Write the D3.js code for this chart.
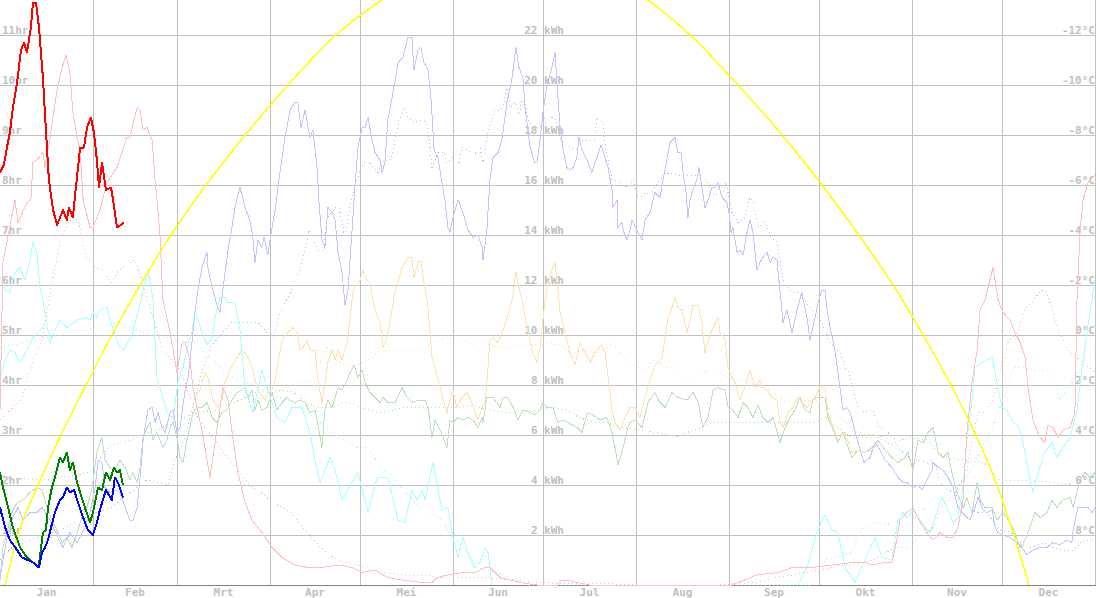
<!DOCTYPE html>
<html><head><meta charset="utf-8">
<script src="https://cdn.jsdelivr.net/npm/d3@7"></script>
<style>
html,body{margin:0;padding:0;background:#fff;}
svg{display:block;}
text{font-family:"DejaVu Sans Mono",monospace;font-weight:bold;font-size:11px;fill:#c0c0c0;}
</style></head><body>
<svg id="c" width="1096" height="598"></svg>
<script>
// ---------- categories / ticks ----------
const months = ["Jan","Feb","Mrt","Apr","Mei","Jun","Jul","Aug","Sep","Okt","Nov","Dec"];
const monthDays = [31,28,31,30,31,30,31,31,30,31,30,31];
const hrTicks = [1,2,3,4,5,6,7,8,9,10,11];
const kwhTicks = [2,4,6,8,10,12,14,16,18,20,22];
const tempTicks = [8,6,4,2,0,-2,-4,-6,-8,-10,-12];

// ---------- series: [dayOfYear, kWh] ----------
const redNow = [[0,16.5],[1.3,16.8],[2.3,17.5],[3.3,18.1],[4.3,19.1],[5.7,20.1],[7,21.4],[8,21.7],[9,21.3],[10.3,22.3],[11,23.3],[12,23.3],[13,22.3],[14.3,20.3],[15.3,18.2],[16.3,16.2],[17.7,15.0],[19,14.4],[21,15.0],[22.3,14.6],[23,15.1],[24.3,14.7],[25.3,15.9],[26.7,17.5],[28,17.5],[29,18.3],[30.3,18.7],[31.3,18.1],[32.3,17.0],[33,15.9],[34,16.9],[35.3,15.8],[37,15.9],[37.7,15.4],[39,14.3],[40.3,14.4],[41.3,14.5]];
const greenNow = [[0,4.5],[1,3.9],[2.3,3.3],[4.3,2.3],[6.7,1.5],[9,1.1],[11,0.9],[12.7,0.7],[13.3,1.1],[14.3,2.1],[15.3,2.2],[16,3.1],[17.3,3.9],[18.3,4.3],[20,5.1],[21,4.9],[22.3,5.3],[23.3,4.6],[24.3,4.9],[25.7,4.1],[26.7,3.7],[28.3,3.1],[30,2.5],[31,2.9],[32.7,3.9],[34,3.8],[35.3,4.5],[36.7,4.2],[38,4.7],[39,4.5],[40,4.6],[41,4.0]];
const blueNow = [[0,3.1],[1.7,2.3],[3.3,1.8],[5.7,1.4],[7.3,1.1],[9.3,1.0],[11,0.9],[13,0.7],[14,1.3],[15,1.5],[16,1.8],[17,2.3],[18.3,2.9],[20,3.4],[21,3.5],[22.3,3.9],[23.3,3.7],[24.7,3.8],[26,3.3],[27.7,2.7],[29.3,2.2],[31,2.0],[32.3,2.5],[33.3,3.0],[34.3,3.4],[35.3,3.8],[36.3,3.6],[37.3,3.4],[38.3,4.3],[39.3,4.1],[41,3.5]];

const yellowRef = [[1.7,0],[6,2],[12.7,4],[20.3,6],[28.7,8],[37.3,10],[46.7,12],[57,14],[68.7,16],[81.7,18],[96,20],[112,22],[127.3,23.4],[145,24.6],[172,25.4],[198,24.6],[216,23.4],[230,22],[246,20],[260.7,18],[274,16],[286.3,14],[297.7,12],[307.7,10],[317,8],[325.3,6],[332.3,4],[338,2],[343,0]];

const pinkPrev = [[0,7.0],[1,12.9],[5,15.4],[6,14.5],[9,15.3],[10.3,15.4],[11,16.9],[12.3,17.0],[14.3,17.3],[15,16.7],[16.7,17.9],[19,19.8],[20.7,20.7],[22,21.2],[23.3,20.5],[24.3,18.9],[25.7,17.9],[26.7,17.4],[27.7,15.4],[30,14.3],[31,14.3],[33.3,15.0],[35.7,16.1],[39,16.7],[42.3,17.9],[43.3,17.9],[45.7,19.1],[46.7,19.0],[47.7,18.2],[49,18.3],[50.7,17.8],[51.7,16.2],[53.3,14.1],[54.3,11.4],[56.7,10.1],[59,8.5],[60.7,9.7],[61.7,9.7],[63.3,9.0],[64.3,7.9],[66.7,6.5],[67.3,6.2],[70,4.3],[72.3,6.2],[74.3,7.9],[76,7.4],[77.7,5.8],[79.3,4.5],[81.7,3.3],[84,2.6],[87.3,2.1],[90.7,1.5],[94,1.1],[98.3,0.8],[102.7,0.7],[107.3,0.7],[112.7,0.8],[117.3,0.7],[120.7,0.5],[125,0.6],[129.3,0.3],[134,0.2],[140.7,0.1],[144,0.1],[145.7,0.3],[149.3,0.4],[154,0.5],[158.3,0.5],[161.7,0.7],[163.3,0.7],[166.7,0.3],[173.3,0.1],[179,0],[185.7,0],[187.3,0.2],[189,0.2],[192.3,0.1],[196.7,0],[244,0],[252.3,0.4],[259.3,0.5],[264,0.7],[270.7,0.7],[277.3,0.8],[284,0.9],[288.3,0.9],[290.7,0.8],[295,0.9],[297.3,0.9],[298.3,1.4],[300,2.6],[302.3,2.9],[304.3,3.1],[306.7,2.5],[309,2.1],[311,1.8],[313.3,2.1],[315.7,1.9],[317.7,1.9],[319.3,2.3],[321,3.4],[322.3,6.1],[324,8.1],[325.7,9.4],[326.7,11.0],[328.3,11.4],[331,12.7],[332.7,11.4],[334.3,10.9],[336.7,10.6],[338.3,10.1],[340,9.7],[341.7,9.1],[342.7,7.9],[344.3,6.6],[346.7,5.9],[348.3,5.7],[349.3,6.4],[351,6.3],[352.7,5.9],[354.3,6.2],[356.7,6.3],[358.3,6.9],[359,11.4],[360,14.1],[361,15.4],[362.7,16.1],[365,16.4]];

const cyanPrev = [[0,12.3],[1.7,11.8],[3.3,11.7],[5,12.5],[6.7,12.7],[8.3,12.2],[10,13.0],[11,13.7],[12.3,13.3],[13.3,11.9],[14.3,11.4],[16.7,9.7],[18.3,10.2],[20,10.6],[22.3,10.3],[25.7,10.6],[29,10.7],[30,10.6],[31,10.9],[32.3,10.7],[33.3,11.0],[35.7,11.1],[37.7,10.2],[40,9.5],[41.3,9.4],[44,10.0],[47,11.4],[49.3,12.6],[51,11.4],[52.3,8.3],[55.7,6.9],[57.7,6.7],[59.3,8.1],[61,8.7],[62.7,9.7],[64,10.1],[65,11.0],[67.3,10.1],[69,9.6],[70.7,9.9],[71.7,10.7],[73.3,11.5],[75,11.5],[76,11.3],[78.3,11.3],[80,10.2],[81.7,7.8],[84.3,6.9],[87.3,8.6],[89,7.9],[92.3,6.7],[95,6.5],[97.3,7.1],[100.7,7.1],[103.3,6.1],[105,5.0],[106.7,4.1],[110,5.1],[111.7,4.6],[114,3.4],[117.3,4.1],[119.3,4.5],[122.7,2.9],[125.7,4.3],[129.3,4.3],[132.7,2.6],[135,2.5],[137.3,3.8],[139,3.4],[140.7,3.8],[141.7,3.4],[144.3,4.9],[147.3,3.0],[149.3,3.1],[151,1.9],[152.7,1.1],[154.3,1.9],[156,1.3],[158,0.7],[160,0.9],[161.7,1.5],[162.7,1.3],[164,0],[165,null],[265,null],[266,0],[269,0.7],[272.3,2.1],[275,2.8],[277.3,2.2],[279.3,2.1],[281.7,0.7],[285,0.1],[288.3,1.0],[291.7,1.9],[294,1.1],[297.3,1.0],[299.3,2.6],[301,2.9],[302.3,2.7],[304.3,3.0],[306.7,2.6],[308.3,2.3],[310,2.1],[312.3,2.9],[314,3.5],[315.7,3.1],[317.7,2.5],[319.3,2.7],[321,3.9],[322.3,5.8],[324,7.4],[325,8.7],[327.3,8.9],[329,9.0],[330.7,9.1],[332.3,8.1],[334,7.1],[335.7,7.0],[337.7,6.5],[339.3,6.4],[341,5.7],[342.7,4.6],[344.3,3.7],[346,4.5],[348.3,5.3],[350.7,5.7],[352.3,5.1],[354.3,5.5],[356.7,5.9],[359,7.0],[360.7,8.7],[362.3,10.1],[364,11.4],[365,12.2]];
const cyanPrevB = [[0,8.2],[1.7,9.0],[3.3,9.4],[5,9.3],[6.7,8.9],[9,9.4],[11,9.9],[13.3,10.2],[15,10.4]];

const lavPrev = [[0,0.3],[1,1.0],[2.7,2.1],[4.3,2.7],[6,3.1],[7.7,2.6],[10,2.9],[12.3,2.9],[14,3.1],[16.7,2.6],[19.3,1.9],[21,1.5],[23.3,2.1],[25.7,1.7],[28.3,2.3],[30,2.9],[31.7,3.9],[32.7,5.0],[34,4.9],[35,3.9],[36.7,3.7],[38.3,3.8],[40,3.7],[41.7,3.1],[43.3,2.6],[44.3,2.6],[45.7,3.1],[46.7,4.3],[47.7,5.8],[49.3,7.0],[50.7,7.1],[51.7,6.5],[52.7,6.9],[54,6.3],[55,6.1],[56.7,6.9],[57.7,7.0],[59,6.1],[60,6.3],[61.7,7.8],[62.7,8.3],[64,9.7],[65,10.9],[66,11.8],[67.3,12.7],[69,13.3],[69.3,12.7],[70.7,11.9],[72.3,11.2],[73.3,10.9],[74.3,11.8],[76,13.4],[77.3,14.3],[78.3,15.1],[80,15.9],[81.7,15.1],[83.3,14.6],[84.3,13.9],[85,12.9],[86,13.8],[87.3,13.5],[88,13.9],[89.3,13.2],[90,13.8],[91.7,15.0],[93.3,16.5],[95,17.9],[96.7,19.0],[98.3,19.3],[99.3,19.3],[100.3,18.3],[101.7,19.0],[103.3,17.9],[104.3,18.2],[105.7,16.7],[106.3,15.4],[107.3,13.8],[108.3,13.5],[109.3,15.1],[110.7,14.9],[111.7,14.6],[112.7,13.3],[114,12.5],[115,11.2],[116,11.8],[117.3,14.1],[118.3,15.9],[119.3,17.5],[120.7,18.3],[121.7,18.3],[122.7,18.7],[124,17.8],[125,17.3],[126.7,17.0],[127.3,16.5],[128.3,16.9],[129.3,18.6],[131,19.7],[132.7,20.9],[134.3,21.1],[136,21.9],[137.3,21.9],[138,20.6],[139.3,21.4],[140.3,21.5],[141.3,20.9],[142.7,20.6],[143.7,19.4],[144.7,17.4],[146,17.1],[147.3,16.1],[148.3,15.4],[149.3,14.3],[150,14.1],[151,14.7],[152.7,15.4],[154.3,14.9],[156,14.2],[157.7,13.9],[159.3,14.0],[160.7,13.5],[161,13.0],[162.3,14.2],[163.3,16.2],[164.3,17.1],[166,17.3],[167.3,17.8],[169,19.3],[170.7,20.3],[172,21.5],[173,20.7],[174.3,20.3],[175,19.1],[176.7,17.5],[178.3,16.9],[179,16.9],[180,17.8],[181,18.9],[182.3,20.0],[184,20.7],[185,21.3],[185.7,20.0],[186.7,18.3],[187.7,17.4],[189,16.7],[190,16.6],[191,16.7],[192.3,17.1],[193,17.9],[194,17.4],[195.7,17.0],[197.3,16.5],[199,17.1],[200.3,17.6],[201.7,17.1],[202.7,16.7],[204,15.8],[204.3,15.1],[205.7,15.4],[206,14.3],[207.3,14.5],[208,14.1],[209,13.8],[210,14.2],[210.7,14.6],[212.3,14.2],[214,13.8],[215,14.6],[216.7,14.9],[218.3,15.7],[220,15.5],[221,16.2],[222.3,17.0],[223.3,17.7],[225,17.9],[226,17.3],[227,17.3],[227.7,16.5],[228.7,15.7],[229.3,14.7],[230,15.4],[231,15.8],[232.3,16.2],[233,16.7],[234,15.9],[235,15.1],[236,15.4],[237.3,15.9],[238.3,15.9],[239.3,16.1],[240.7,15.5],[242.3,15.3],[243,14.9],[243.7,14.1],[244.3,14.3],[245.7,13.3],[246.7,13.4],[247.7,13.2],[249,14.1],[250,14.6],[251,14.1],[252.3,12.6],[253.3,12.9],[254.3,13.1],[255.7,13.3],[256.7,12.9],[257.7,13.1],[259,13.0],[259.7,12.1],[260.3,11.4],[261,10.5],[262.3,11.0],[264,10.1],[265.7,11.0],[267.3,11.7],[269,10.7],[270,9.8],[271.7,10.7],[272.7,11.3],[274,11.8],[275,11.8],[275.7,11.0],[276.7,10.3],[278.3,9.4],[279.3,8.5],[281,7.0],[282.3,7.1],[283.3,6.9],[284.3,6.5],[286,5.7],[288,4.9],[290,5.1],[291.7,5.7],[293.3,5.4],[295,5.0],[297.3,4.7],[299.3,4.3],[301,4.1],[302.3,4.1],[304.3,3.9],[306,4.0],[307.3,3.8],[309,4.2],[310.7,4.6],[311,4.9],[312.7,4.7],[314.3,4.6],[316,4.3],[317.7,3.9],[319.3,3.1],[320.7,2.9],[322.3,2.7],[323.3,2.6],[325,3.1],[326,3.5],[327.7,3.0],[329,2.9],[330.7,3.0],[331.7,2.3],[332.7,2.1],[334.3,2.0],[336.7,1.9],[339,1.7],[340.7,1.5],[342.3,1.2],[344.3,1.4],[346.7,1.5],[349,1.5],[351,1.7],[353.3,1.6],[355.7,1.8],[357.3,1.7],[357.7,2.2],[359.3,3.1],[361,3.1],[362.7,3.1],[364,2.9],[365,3.1]];

const orangePrev = [[65,7.5],[66.7,7.8],[68.3,8.5],[69.3,8.3],[71,7.4],[72.7,7.1],[74,7.4],[75,8.1],[76.7,8.6],[79,9.1],[80.7,9.4],[82.7,9.1],[84.3,8.6],[85.7,7.9],[86.7,7.7],[88.3,7.4],[89.3,7.7],[90.7,7.8],[91.7,8.2],[94,9.8],[96,10.1],[97.7,10.3],[99,10.1],[100,9.4],[101,9.5],[102.3,9.8],[103.3,9.4],[105,9.4],[106,8.2],[107.3,7.3],[108.3,8.1],[109.3,8.9],[110.7,9.4],[111.7,9.0],[112.7,9.4],[114,9.0],[115.7,9.7],[116.7,10.7],[117.7,11.8],[120,12.2],[121,12.6],[122.3,12.2],[123.3,12.1],[124,11.6],[125,11.0],[126.7,10.5],[127.7,9.5],[129,9.9],[130.7,11.0],[131.7,11.8],[132.3,11.9],[134,12.7],[136,13.1],[137.3,13.1],[138,12.3],[139.3,12.9],[140.3,13.0],[141.3,12.1],[142.3,11.4],[142.7,11.0],[144,9.1],[145,8.7],[146.7,7.9],[147.7,7.4],[149,6.9],[150,7.4],[151,7.8],[152.3,7.1],[154,7.5],[155.7,7.7],[157.3,7.3],[159.3,6.6],[160.7,7.1],[161.7,7.3],[162.3,8.1],[163.3,9.8],[164.3,9.9],[165.7,9.7],[166.7,9.9],[167.7,10.2],[169,10.7],[170.7,11.4],[172,12.5],[173,11.9],[174,11.4],[175.7,10.3],[177.3,9.4],[179,8.9],[180,9.5],[180.7,10.3],[181.7,11.4],[182.3,11.9],[184,12.6],[185,12.9],[185.7,12.1],[186.3,11.4],[186.7,10.9],[188.3,10.1],[190,9.3],[191.7,8.8],[193.3,9.7],[195,9.3],[196.7,8.9],[198.3,9.3],[200.3,9.6],[201.7,9.3],[202.7,8.3],[204,7.0],[205,6.5],[206.7,6.2],[208.3,6.7],[210,7.1],[211.7,7.1],[213.3,6.7],[215,7.5],[216.7,8.2],[218.3,8.8],[219.3,8.9],[220.7,9.1],[221.7,9.9],[222.7,10.7],[224,11.1],[225,11.5],[226,11.1],[227.3,11.0],[229,10.1],[230,10.6],[231,11.2],[232.7,11.2],[234,10.5],[235,9.3],[236,9.8],[237.7,10.3],[239.3,10.7],[240,10.1],[241.7,9.8],[242.7,8.7],[244,8.3],[245,8.1],[246.7,7.4],[248.3,7.9],[250,8.6],[251.7,7.9],[253.3,8.2],[254.3,7.9],[255.7,7.8],[257.3,7.5],[259,7.4],[260,6.5],[261,6.3],[262.7,6.9],[264.3,7.1],[266,7.5],[267.3,7.3],[269,7.1],[270,7.3],[271.7,7.5],[273.3,7.9],[275,7.9],[276,6.9],[277.7,6.3],[279.3,5.8],[281.7,6.1],[284,5.3],[286,5.4],[288.3,5.3],[290.7,5.4],[292.7,5.7]];

const greenPrev = [[0,0.2],[1,1.5],[2.3,2.1],[4,2.9],[5.7,3.3],[7.7,3.4],[10,3.7],[12.3,3.9],[14,3.8],[15.7,3.1],[17.3,2.6],[19,2.2],[20.7,1.7],[22.3,1.9],[24,1.5],[25.7,2.1],[27.3,2.7],[29,3.1],[30.7,3.9],[32.3,5.3],[34,5.9],[35,5.0],[36.7,4.7],[38.3,4.6],[40,5.0],[41.7,4.7],[43.3,4.2],[44.3,4.5],[45.7,4.1],[46.7,4.7],[47.7,5.9],[49,6.3],[50,6.5],[51,5.8],[52.3,6.1],[53.3,5.8],[54.3,5.5],[55.7,5.8],[56.7,6.3],[57.7,6.5],[59,5.9],[60,5.1],[61,4.9],[62.3,5.8],[63.3,6.3],[64.3,6.9],[65.7,7.1],[67.3,7.1],[69,7.3],[70.7,6.7],[72.3,6.5],[74,6.9],[75.7,7.0],[77.3,7.4],[79,7.7],[80.7,7.8],[81.7,7.9],[82.7,7.5],[84,7.8],[85,7.0],[86,7.4],[87.3,7.0],[89,7.1],[90.7,7.7],[92.3,7.0],[94,7.3],[95.7,7.5],[96.7,7.4],[98.3,7.3],[100,7.4],[101.7,7.3],[103.3,6.9],[105,7.0],[106.3,6.2],[107.3,5.5],[108.3,7.0],[109.3,7.4],[110.7,7.1],[111.7,7.5],[112.7,7.9],[114,7.8],[115.7,8.2],[116.7,8.5],[118,8.8],[119.3,8.3],[120.7,8.6],[121.7,8.1],[123.3,7.7],[125,7.5],[126.7,7.3],[127.7,7.5],[129.3,7.3],[131.7,7.3],[134,7.9],[135.7,7.5],[137.7,7.3],[139.3,7.4],[141.7,7.4],[142.7,7.1],[144,5.9],[145,6.6],[146.7,6.2],[147.7,5.9],[149,5.5],[150,6.6],[151,6.5],[152.7,6.7],[154.3,6.6],[156,6.7],[157.7,6.6],[159.3,6.3],[160.7,6.7],[161,6.5],[162.3,7.5],[164.3,7.5],[166.7,7.1],[167.7,7.5],[169.3,7.5],[171,7.1],[172.7,6.6],[174.3,7.0],[176.7,6.9],[178.3,6.8],[180,7.0],[181,7.3],[182.3,7.1],[184.3,7.1],[186,6.5],[187.7,6.6],[189.3,6.5],[192.3,6.3],[194,6.1],[195.7,6.9],[197.7,6.8],[200,6.6],[202.3,6.7],[204,6.1],[205,5.5],[206,4.8],[207.7,5.5],[209.3,6.3],[210,6.5],[211.7,6.6],[214,6.3],[216,7.3],[218.3,7.7],[220,7.3],[221.7,7.1],[224,7.7],[226,7.5],[229,7.4],[231,7.7],[232.7,7.3],[234.3,6.3],[236,6.7],[237.7,7.8],[239.3,7.9],[241.7,7.8],[242.7,7.1],[244.3,7.0],[246,6.7],[247.7,7.3],[249.3,7.1],[251,6.7],[252.7,7.2],[254.3,6.7],[256,6.5],[257.7,6.7],[260,5.7],[261.7,6.3],[263.3,6.7],[265,7.0],[266.7,7.5],[268.3,7.0],[270,6.9],[271,7.4],[272.7,7.5],[275,7.5],[276,6.7],[277.7,6.2],[279.3,5.7],[281,6.1],[282.7,5.5],[284,5.1],[286,5.4],[288.3,5.3],[290.7,5.5],[292.7,5.8],[295,5.4],[297.3,5.1],[299.3,4.9],[301.7,5.1],[302.7,5.3],[304.3,4.6],[306,5.8],[307.7,5.7],[309.3,6.1],[311,6.3],[312.7,5.3],[314.3,5.1],[316,5.3],[317.3,4.5],[319,3.7],[321,3.1],[322.3,3.5],[324,2.9],[325.7,4.1],[326.7,3.4],[328.3,3.1],[330.7,3.1],[332.3,2.6],[334.3,2.9],[336.7,2.5],[338.3,2.1],[340,1.5],[341.7,1.8],[343.3,2.3],[345,2.9],[346.7,2.7],[349,2.9],[350.7,3.4],[352.3,3.1],[354.3,3.4],[356.7,3.5],[357.7,3.1],[359,3.7],[360,4.2],[361.7,4.5],[363.3,4.3],[365,4.5]];

// averages (dotted)
const pinkAvg = [[0,6.6],[7,7.4],[11,9.0],[14,9.8],[17,11.9],[19,13.1],[20,13.8],[24,14.7],[26,14.6],[28,13.5],[29,13.1],[32,12.7],[34,12.6],[37,12.1],[39,12.5],[41,12.7],[45,13.0],[47,12.3],[54,9.5],[57,9.0],[60,8.6],[66,6.7],[69,6.2],[72,5.7],[77,4.9],[80,4.5],[84,3.9],[87,3.7],[91,3.3],[94,3.1],[97,2.9],[101,2.3],[104,1.9],[107,1.5],[111,1.1],[115,0.9],[119,0.8],[124,0.6],[128,0.5],[134,0.4],[141,0.4],[147,0.3],[157,0.3],[162,0.3],[171,0.2],[178,0.1],[190,0.05],[204,0.05],[211,0],[240,0],[245,0.05],[252,0.1],[258,0.3],[264,0.4],[273,0.6],[281,0.8],[288,0.9],[293,1.1],[298,1.5],[302,1.5],[307,1.9],[311,2.3],[314,3.1],[318,3.6],[322,4.5],[326,6.9],[328,6.9],[331,7.4],[336,9.7],[339,10.1],[342,11.1],[344,11.3],[347,11.8],[349,11.7],[353,10.1],[356,9.4],[360,9.0],[365,8.5]];
const cyanAvg = [[0,9.5],[20,10.0],[40,10.5],[50,10.0],[60,9.8],[65,9.7],[68,9.3],[72,8.9],[75,8.5],[79,8.2],[84,8.0],[88,7.8],[93,7.5],[98,7.3],[102,6.9],[106,6.6],[110,6.2],[113,5.9],[116,5.7],[119,5.5],[122,5.5],[125,5.1],[127,4.6],[131,4.4],[134,3.8],[137,3.5],[141,3.0],[144,2.8],[147,2.6],[150,2.1],[153,1.7],[156,1.3],[159,0.7],[163,0.6],[168,0.4],[172,0.2],[176,0],[270,0],[275,1.0],[279,1.1],[284,1.3],[287,2.2],[291,2.5],[295,2.4],[298,2.5],[300,2.3],[304,2.5],[311,3.5],[317,3.5],[322,4.2],[327,5.4],[330,6.1],[334,7.3],[338,8.7],[341,8.7],[344,8.6],[348,8.6],[351,8.5],[353,7.4],[358,8.2],[362,9.1],[365,9.5]];
const lavAvg = [[0,1.0],[4,1.5],[10,1.8],[20,2.2],[30,2.8],[37,3.1],[39,3.3],[49,4.2],[56,4.0],[58,4.9],[62,6.0],[66,8.0],[70,9.5],[77,10.5],[86,10.5],[91,9.8],[93,10.8],[95,11.3],[97,11.7],[98,12.1],[100,12.6],[101,13.1],[102,13.5],[103,14.2],[106,13.4],[108,13.4],[109,14.7],[112,15.1],[113,15.1],[115,13.9],[117,15.4],[120,16.6],[122,17.0],[123,16.9],[126,16.5],[128,17.0],[130,17.0],[131,17.4],[133,18.6],[135,19.1],[136,18.7],[138,18.5],[141,18.6],[142,18.5],[143,17.9],[144,16.7],[146,17.3],[148,17.3],[149,16.9],[151,17.1],[153,16.9],[154,17.5],[156,17.4],[158,17.2],[160,17.5],[161,16.9],[163,18.3],[165,19.0],[167,19.0],[168,19.3],[169,19.9],[170,19.1],[172,19.3],[173,18.8],[174,19.4],[175,19.3],[176,18.6],[178,18.3],[180,18.3],[181,18.8],[182,18.5],[185,18.8],[186,18.2],[187,17.8],[189,17.6],[192,17.4],[194,17.8],[198,17.8],[199,18.7],[201,18.5],[202,17.4],[204,16.2],[207,16.1],[209,15.9],[211,16.2],[213,15.4],[215,15.7],[217,15.6],[219,16.1],[223,16.5],[226,16.4],[232,16.4],[235,16.3],[238,15.6],[241,15.7],[242,16.1],[244,14.9],[246,14.5],[248,14.6],[250,15.5],[251,15.3],[253,14.3],[255,14.6],[257,13.9],[259,13.7],[261,12.2],[264,11.7],[266,11.7],[274,10.5],[276,9.8],[278,9.5],[280,9.3],[282,8.6],[283,8.5],[286,7.1],[288,6.9],[291,7.0],[293,6.3],[296,6.1],[298,5.9],[300,5.4],[303,5.1],[306,5.0],[309,4.9],[311,5.0],[314,3.9],[318,3.7],[322,3.1],[326,2.9],[329,2.9],[333,2.2],[337,2.1],[341,1.6],[344,1.5],[348,1.7],[351,1.5],[354,1.4],[358,1.4],[361,1.8],[365,1.8]];
const orangeAvg = [[80,7.2],[90,7.6],[99,8.1],[104,8.2],[109,9.5],[112,9.0],[116,8.7],[121,8.9],[124,9.1],[127,9.4],[131,9.4],[137,9.4],[141,9.4],[144,9.7],[149,9.9],[154,9.8],[158,9.6],[160,9.7],[163,9.6],[167,9.5],[170,9.5],[173,9.6],[177,9.6],[182,9.7],[187,9.6],[191,9.2],[194,9.4],[198,9.3],[201,9.3],[204,9.7],[208,9.1],[209,8.9],[211,8.8],[215,8.6],[218,9.0],[222,8.7],[225,8.7],[229,8.1],[234,8.5],[237,8.6],[241,8.4],[245,8.2],[249,8.2],[253,7.9],[257,7.8],[261,7.4],[264,7.3],[268,7.4],[273,7.4],[277,7.0],[282,6.5],[286,6.1],[291,6.0],[295,5.9],[298,5.8]];
const greenAvg = [[0,4.3],[15,4.2],[30,4.5],[36,5.5],[40,5.7],[44,5.8],[47,6.0],[55,6.3],[65,6.9],[72,7.0],[80,7.4],[85,7.7],[89,7.8],[94,7.8],[98,7.7],[102,7.3],[106,7.1],[111,7.1],[115,7.3],[118,7.2],[123,7.0],[126,6.9],[131,7.0],[135,7.1],[144,7.1],[153,7.1],[157,7.2],[160,7.1],[164,7.0],[169,6.9],[175,7.0],[180,7.0],[184,7.1],[189,7.0],[193,6.7],[198,6.5],[202,6.5],[207,6.3],[213,6.2],[219,6.1],[225,5.9],[229,6.1],[234,6.3],[238,6.5],[272,6.5],[275,6.7],[279,6.3],[284,5.9],[293,5.9],[297,5.6],[300,5.8],[303,5.9],[309,5.8],[311,5.5],[314,5.1],[322,5.0],[328,4.9],[333,4.2],[342,4.2],[351,4.1],[356,4.0],[360,4.3],[365,4.5]];

// ---------- drawing ----------
const W = 1096, H = 598, bottom = 585;
const svg = d3.select("#c");
const x = d3.scaleLinear().domain([0,365]).range([0,1095]);
const y = d3.scaleLinear().domain([0,22]).range([bottom,35]);
const yHr = d3.scaleLinear().domain([0,11]).range([bottom,35]);
const yT = d3.scaleLinear().domain([10,-12]).range([bottom,35]);

const monthStart = [0]; monthDays.forEach((d,i)=>monthStart.push(monthStart[i]+d));

svg.append("defs").append("clipPath").attr("id","clip")
  .append("rect").attr("x",0).attr("y",0).attr("width",W).attr("height",bottom+1);

const grid = svg.append("g").attr("shape-rendering","crispEdges");
grid.selectAll("line.v").data(monthStart.slice(1)).join("line")
  .attr("x1",d=>Math.round(x(d))+0.5).attr("x2",d=>Math.round(x(d))+0.5)
  .attr("y1",0).attr("y2",bottom).attr("stroke","#c0c0c0");
grid.selectAll("line.h").data(hrTicks).join("line")
  .attr("x1",0).attr("x2",W).attr("y1",d=>yHr(d)+0.5).attr("y2",d=>yHr(d)+0.5).attr("stroke","#c0c0c0");
grid.append("line").attr("x1",0).attr("x2",W).attr("y1",bottom+0.5).attr("y2",bottom+0.5).attr("stroke","#808080");

// labels
const lab = svg.append("g");
lab.selectAll("text.hr").data(hrTicks).join("text")
  .attr("x",2).attr("y",d=>yHr(d)-1).text(d=>d+"hr");
lab.selectAll("text.kwh").data(kwhTicks).join("text")
  .attr("x",564).attr("y",d=>y(d)-1).attr("text-anchor","end").text(d=>d+" kWh");
lab.selectAll("text.t").data(tempTicks).join("text")
  .attr("x",1095).attr("y",d=>yT(d)-1).attr("text-anchor","end").text(d=>d+"°C");
lab.selectAll("text.m").data(months).join("text")
  .attr("x",(d,i)=>x((monthStart[i]+monthStart[i+1])/2)).attr("y",596)
  .attr("text-anchor","middle").text(d=>d);

const line = d3.line().defined(d=>d[1]!==null).x(d=>x(d[0])).y(d=>y(d[1]));
const smooth = d3.line().curve(d3.curveMonotoneX).x(d=>x(d[0])).y(d=>y(d[1]));
const plot = svg.append("g").attr("clip-path","url(#clip)");
function draw(data,color,width,dash,gen){
  const p = plot.append("path").datum(data).attr("d",(gen||line))
    .attr("fill","none").attr("stroke",color).attr("stroke-width",width)
    .attr("stroke-linejoin","round").attr("shape-rendering","crispEdges");
  if(dash) p.attr("stroke-dasharray",dash);
  return p;
}
// dotted averages
draw(pinkAvg,"#ffb8b8",1,"1,3");
draw(cyanAvg,"#a8f4f4",1,"1,3");
draw(lavAvg,"#b8b8ff",1,"1,3");
draw(orangeAvg,"#ffdcaa",1,"1,3");
draw(greenAvg,"#b8dcb8",1,"1,3");
// previous year lines
draw(greenPrev,"#bfe0bf",1);
draw(orangePrev,"#ffe2b4",1);
draw(cyanPrevB,"#b0ffff",1);
draw(cyanPrev,"#a8ffff",1);
draw(lavPrev,"#c4c4ff",1);
draw(pinkPrev,"#ffc0c0",1);
// reference curve
draw(yellowRef,"#ffff00",1.5,null,smooth);
// current year
draw(greenNow,"#008000",2);
draw(blueNow,"#0000ff",2);
draw(redNow,"#ff0000",2);
</script>
</body></html>
